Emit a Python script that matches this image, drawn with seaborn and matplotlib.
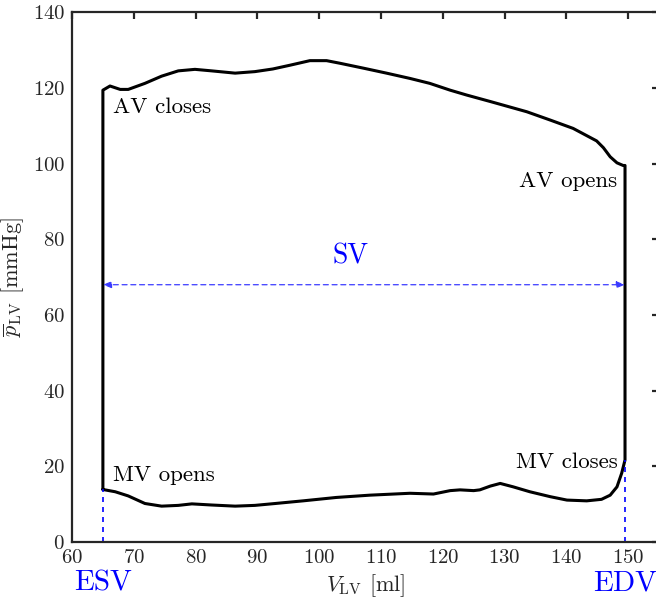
import numpy as np
import pandas as pd
import matplotlib
matplotlib.use("Agg")
import matplotlib.pyplot as plt
import seaborn as sns

# Left-ventricular pressure-volume loop (one cardiac cycle)
esv = 65.0     # end-systolic volume [ml]
edv = 149.5    # end-diastolic volume [ml]
sv_level = 68.0  # height of the stroke-volume arrow [mmHg]

# filling phase: MV opens -> MV closes
filling_volume = [65.0, 67.0, 69.1, 71.8, 74.5, 77.2, 79.4, 82.6, 86.4, 89.6,
                  92.9, 97.4, 102.8, 108.2, 114.7, 118.5, 121.2, 122.8, 125.0,
                  126.0, 127.7, 129.3, 131.4, 134.1, 137.4, 140.1, 143.3,
                  145.7, 147.1, 148.2, 148.96, 149.5]
filling_pressure = [13.9, 13.3, 12.2, 10.2, 9.5, 9.7, 10.1, 9.8, 9.5, 9.7,
                    10.2, 10.9, 11.8, 12.4, 12.9, 12.7, 13.6, 13.8, 13.6,
                    13.8, 14.8, 15.5, 14.6, 13.3, 12.0, 11.1, 10.9,
                    11.3, 12.4, 14.6, 18.2, 21.7]

# ejection phase: AV opens -> AV closes
ejection_volume = [149.5, 149.2, 148.2, 147.1, 146.0, 144.9, 141.1, 137.4,
                   133.6, 127.7, 123.9, 121.2, 117.9, 114.7, 110.9, 107.2,
                   103.4, 101.2, 98.5, 95.3, 92.5, 89.6, 86.4, 82.6, 79.9,
                   77.2, 74.5, 71.8, 69.1, 67.8, 66.15, 65.0]
ejection_pressure = [99.5, 99.5, 100.2, 101.8, 104.2, 106.0, 109.3, 111.5,
                     113.7, 116.4, 118.1, 119.4, 121.2, 122.5, 123.9, 125.2,
                     126.5, 127.2, 127.2, 126.0, 125.0, 124.3, 123.9, 124.5, 124.9,
                     124.5, 123.1, 121.2, 119.6, 119.6, 120.5, 119.4]

x_ticks = [60, 70, 80, 90, 100, 110, 120, 130, 140, 150]
y_ticks = [0, 20, 40, 60, 80, 100, 120, 140]

loop = pd.DataFrame({
    "volume": filling_volume + ejection_volume + [filling_volume[0]],
    "pressure": filling_pressure + ejection_pressure + [filling_pressure[0]],
})

sns.set_style("white")
plt.rcParams["font.family"] = "serif"
plt.rcParams["font.serif"] = ["cmr10"]
plt.rcParams["mathtext.fontset"] = "cm"
plt.rcParams["axes.formatter.use_mathtext"] = True

ink = "#262626"
blue = "#0000FF"

fig = plt.figure(figsize=(6.56, 5.99), dpi=100)
ax = fig.add_axes([72 / 656, 1 - 542.1 / 599, 587 / 656, 529.9 / 599])

sns.lineplot(data=loop, x="volume", y="pressure", sort=False, estimator=None,
             color="black", linewidth=2.2, ax=ax)

# ESV / EDV markers down to the volume axis
ax.plot([esv, esv], [0, filling_pressure[0]], ls=(0, (3, 3)), color=blue, lw=1.2)
ax.plot([edv, edv], [0, filling_pressure[-1]], ls=(0, (3, 3)), color=blue, lw=1.2)

# stroke volume arrow
ax.annotate("", xy=(edv, sv_level), xytext=(esv, sv_level),
            arrowprops=dict(arrowstyle="<|-|>,head_length=0.5,head_width=0.2",
                            color="#3a3aff", lw=0.9, linestyle=(0, (4, 3)),
                            shrinkA=0, shrinkB=0))
ax.text(105, 75.5, "SV", color=blue, fontsize=20, ha="center", va="center")

ax.text(66.7, 113.3, "AV closes", fontsize=16.5, ha="left", va="baseline", color="black")
ax.text(148.2, 93.8, "AV opens", fontsize=16.5, ha="right", va="baseline", color="black")
ax.text(66.7, 16.2, "MV opens", fontsize=16.5, ha="left", va="baseline", color="black")
ax.text(148.3, 19.7, "MV closes", fontsize=16.5, ha="right", va="baseline", color="black")

ax.text(esv, -12.8, "ESV", color=blue, fontsize=21, ha="center", va="baseline", clip_on=False)
ax.text(edv, -12.8, "EDV", color=blue, fontsize=21, ha="center", va="baseline", clip_on=False)

ax.set_xlim(60, 155)
ax.set_ylim(0, 140)
ax.set_xticks(x_ticks)
ax.set_yticks(y_ticks)
ax.set_xlabel(r"$V_{\mathrm{LV}}$ [ml]", fontsize=16, color=ink, labelpad=4)
ax.set_ylabel(r"$\overline{p}_{\mathrm{LV}}$ [mmHg]", fontsize=16, color=ink, labelpad=5)

for side in ["left", "right", "top", "bottom"]:
    ax.spines[side].set_visible(True)
    ax.spines[side].set_linewidth(1.6)
    ax.spines[side].set_color(ink)
ax.tick_params(direction="in", length=5, width=1.6, color=ink, labelcolor=ink,
               labelsize=15, top=True, right=True, pad=5)
ax.grid(False)

fig.savefig("out.png", dpi=100)
